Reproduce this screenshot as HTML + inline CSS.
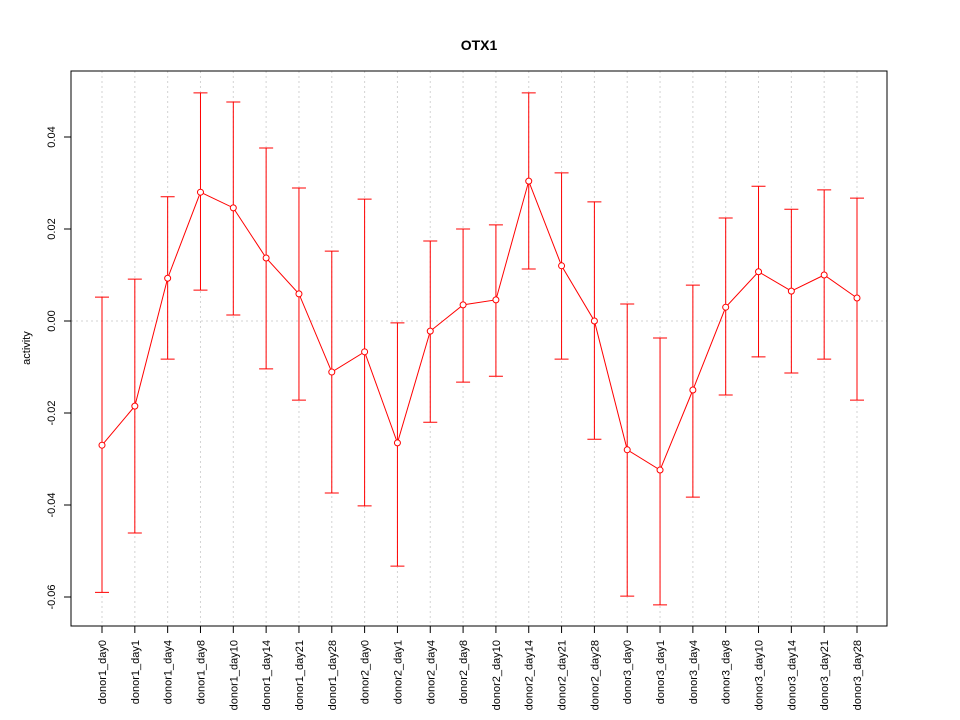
<!DOCTYPE html>
<html><head><meta charset="utf-8"><style>body{margin:0;background:#fff}svg{display:block;font-family:"Liberation Sans",sans-serif}</style></head>
<body>
<svg id="chart" width="960" height="720" xmlns="http://www.w3.org/2000/svg">
<text x="479" y="50" text-anchor="middle" font-size="14" font-weight="bold">OTX1</text>
<text transform="translate(30,348) rotate(-90)" text-anchor="middle" font-size="11">activity</text>
<g id="grid"></g><g id="marks"></g><g id="axes"></g>
<rect x="71" y="71" width="816" height="555" fill="none" stroke="#000"/>
</svg>
<script>
const categories=["donor1_day0","donor1_day1","donor1_day4","donor1_day8","donor1_day10","donor1_day14","donor1_day21","donor1_day28","donor2_day0","donor2_day1","donor2_day4","donor2_day8","donor2_day10","donor2_day14","donor2_day21","donor2_day28","donor3_day0","donor3_day1","donor3_day4","donor3_day8","donor3_day10","donor3_day14","donor3_day21","donor3_day28"];
const values=[-0.0270,-0.0185,0.0093,0.0280,0.0246,0.0137,0.0059,-0.0111,-0.0067,-0.0265,-0.0022,0.0035,0.0046,0.0304,0.0120,0.0000,-0.0280,-0.0324,-0.0150,0.0030,0.0107,0.0065,0.0100,0.0050];
const upper=[0.0052,0.0091,0.0270,0.0496,0.0476,0.0376,0.0289,0.0152,0.0265,-0.0004,0.0174,0.0200,0.0209,0.0496,0.0322,0.0259,0.0037,-0.0037,0.0078,0.0224,0.0293,0.0243,0.0285,0.0267];
const lower=[-0.0590,-0.0461,-0.0083,0.0067,0.0013,-0.0104,-0.0172,-0.0374,-0.0402,-0.0533,-0.0220,-0.0133,-0.0120,0.0113,-0.0083,-0.0257,-0.0598,-0.0617,-0.0383,-0.0161,-0.0078,-0.0113,-0.0083,-0.0172];
const yTicks=[-0.06,-0.04,-0.02,0.00,0.02,0.04];
const yTickLabels=["-0.06","-0.04","-0.02","0.00","0.02","0.04"];
const NS="http://www.w3.org/2000/svg";
const x=i=>102+i*(857-102)/(categories.length-1);
const y=v=>321-v*4600;
function mk(tag,attrs,parent){const e=document.createElementNS(NS,tag);for(const k in attrs)e.setAttribute(k,attrs[k]);document.getElementById(parent).appendChild(e);return e;}
categories.forEach((c,i)=>{
 const g=mk('line',{x1:x(i),x2:x(i),y1:71,y2:626,stroke:'#d3d3d3','stroke-dasharray':'2,3'},'grid');
 
 
 const t=mk('line',{x1:x(i),x2:x(i),y1:626,y2:633,stroke:'#000'},'axes');
 
 
 const l=mk('text',{transform:`translate(${x(i)+4},640) rotate(-90)`,'text-anchor':'end','font-size':'11'},'axes');
 l.textContent=c;
 
 
});
const z=mk('line',{x1:71,x2:887,y1:y(0),y2:y(0),stroke:'#d3d3d3','stroke-dasharray':'2,3'},'grid');


yTicks.forEach((v,i)=>{
 const t=mk('line',{x1:64,x2:71,y1:y(v),y2:y(v),stroke:'#000'},'axes');
 
 
 const l=mk('text',{transform:`translate(55,${y(v)}) rotate(-90)`,'text-anchor':'middle','font-size':'11'},'axes');
 l.textContent=yTickLabels[i];
 
 
});
categories.forEach((c,i)=>{
 const e=mk('path',{d:`M${x(i)},${y(upper[i])}V${y(lower[i])}M${x(i)-7},${y(upper[i])}H${x(i)+7}M${x(i)-7},${y(lower[i])}H${x(i)+7}`,stroke:'#ff0000',fill:'none'},'marks');
 
 
});
const ln=mk('polyline',{points:values.map((v,i)=>x(i)+','+y(v)).join(' '),fill:'none',stroke:'#ff0000'},'marks');


values.forEach((v,i)=>{
 const p=mk('circle',{cx:x(i),cy:y(v),r:3,fill:'#fff',stroke:'#ff0000'},'marks');
 
 
});
</script>
</body></html>
